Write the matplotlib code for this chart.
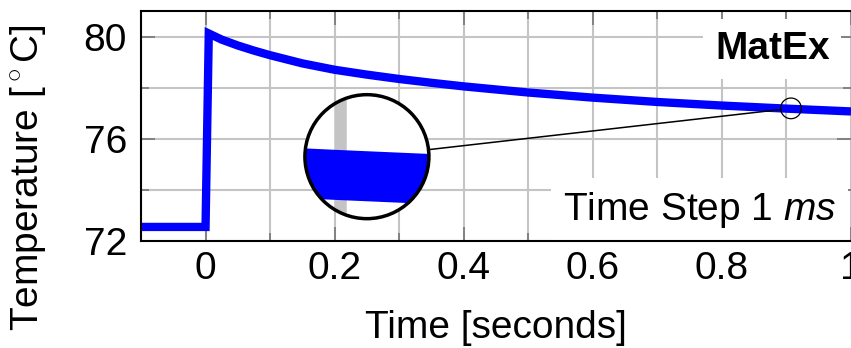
import matplotlib
matplotlib.use('Agg')
import numpy as np
import matplotlib.pyplot as plt
from matplotlib.patches import Circle
from matplotlib.lines import Line2D
from matplotlib.transforms import IdentityTransform
from matplotlib.ticker import MultipleLocator, FuncFormatter

# temperature trace
time_s = [-0.1, 0.0, 0.005, 0.025, 0.05, 0.075, 0.1, 0.15, 0.2, 0.25, 0.3,
          0.35, 0.4, 0.5, 0.6, 0.7, 0.8, 0.9, 1.0]
temp_c = [72.55, 72.55, 80.12, 79.88, 79.65, 79.45, 79.27, 78.95, 78.70,
          78.51, 78.34, 78.19, 78.05, 77.81, 77.61, 77.44, 77.30, 77.18, 77.07]

y_major = [72, 76, 80]
y_minor = [74, 78]

# magnifier: spot being looked at, where the lens sits, zoom factor
spy_at = (0.907, 77.19)
lens_at = (0.25, 75.3)
lens_shift_y = 0.11
lens_r = 62
zoom = 6.0

blue = '#0000ff'
grid_c = '#c4c4c4'
fs = 28

plt.rcParams['font.family'] = 'Liberation Sans'
plt.rcParams['mathtext.fontset'] = 'custom'
plt.rcParams['mathtext.rm'] = 'Liberation Sans'
plt.rcParams['mathtext.it'] = 'Liberation Sans:italic'
plt.rcParams['mathtext.bf'] = 'Liberation Sans:bold'

W, H = 851, 348
fig = plt.figure(figsize=(W / 100, H / 100), dpi=100)
ax = fig.add_axes([141 / W, 1 - 241 / H, 710 / W, 230 / H])

ax.plot(time_s, temp_c, color=blue, lw=6, solid_joinstyle='miter',
        solid_capstyle='butt', zorder=2)
ax.set_xlim(-0.1, 1.0)
ax.set_ylim(72, 81)
ax.xaxis.set_major_locator(MultipleLocator(0.2))
ax.xaxis.set_minor_locator(MultipleLocator(0.1))
ax.xaxis.set_major_formatter(FuncFormatter(lambda v, p: '%g' % (round(v, 6) + 0.0)))
ax.set_yticks(y_major)
ax.set_yticks(y_minor, minor=True)
ax.grid(which='both', color=grid_c, lw=1.5)
ax.set_axisbelow(True)
ax.tick_params(which='both', direction='in', top=True, right=True,
               color='#777777', width=1.2, labelsize=fs)
ax.tick_params(which='major', length=10)
ax.tick_params(which='minor', length=6)
ax.tick_params(axis='x', pad=7)
ax.tick_params(axis='y', pad=10)
for s in ax.spines.values():
    s.set_linewidth(1.5)
ax.spines['right'].set_visible(False)

ax.set_xlabel('Time [seconds]', fontsize=fs)
ax.xaxis.set_label_coords(0.5, -0.30)
ax.set_ylabel('Temperature [$^\\circ$C]', fontsize=fs)
ax.yaxis.set_label_coords(-0.131, 0.274)

box = dict(facecolor='white', edgecolor='none', boxstyle='square,pad=0.3')
ax.text(0.970, 0.791, 'MatEx', transform=ax.transAxes, ha='right',
        va='baseline', fontsize=fs, fontweight='bold', bbox=box, zorder=2.4)
ax.text(0.979, 0.091, 'Time Step 1 $\\mathit{ms}$', transform=ax.transAxes,
        ha='right', va='baseline', fontsize=fs, bbox=box, zorder=2.4)

# lens
px_x = ax.transData.transform((1, 0))[0] - ax.transData.transform((0, 0))[0]
px_y = ax.transData.transform((0, 1))[1] - ax.transData.transform((0, 0))[1]
cx, cy = ax.transData.transform(lens_at)
sx, sy = ax.transData.transform(spy_at)

ax_in = fig.add_axes([(cx - lens_r) / W, (cy - lens_r) / H,
                      2 * lens_r / W, 2 * lens_r / H], zorder=3)
hw = lens_r / (zoom * px_x)
hh = lens_r / (zoom * px_y)
ax_in.set_xlim(spy_at[0] - hw, spy_at[0] + hw)
ax_in.set_ylim(spy_at[1] + lens_shift_y - hh, spy_at[1] + lens_shift_y + hh)
ax_in.axis('off')
clip = Circle((0.5, 0.5), 0.5, transform=ax_in.transAxes)
ax_in.add_patch(Circle((0.5, 0.5), 0.5, transform=ax_in.transAxes,
                       fc='white', ec='none', zorder=0))
gl = ax_in.axvline(0.9, color=grid_c, lw=1.5 * zoom, zorder=1)
gl.set_clip_path(clip)
ln, = ax_in.plot(time_s, temp_c, color=blue, lw=6 * zoom,
                 solid_capstyle='butt', zorder=2)
ln.set_clip_path(clip)
ax_in.add_patch(Circle((0.5, 0.5), 0.5, transform=ax_in.transAxes,
                       fill=False, ec='black', lw=2.5, clip_on=False, zorder=5))

r_small = lens_r / zoom
fig.add_artist(Circle((sx, sy), r_small, transform=IdentityTransform(),
                      fill=False, ec='black', lw=0.9, zorder=4))
u = np.array([sx - cx, sy - cy])
u = u / np.hypot(*u)
p0 = np.array([cx, cy]) + lens_r * u
p1 = np.array([sx, sy]) - r_small * u
fig.add_artist(Line2D([p0[0], p1[0]], [p0[1], p1[1]],
                      transform=IdentityTransform(), color='black', lw=1.1,
                      zorder=4))

fig.savefig('out.png', dpi=100)
